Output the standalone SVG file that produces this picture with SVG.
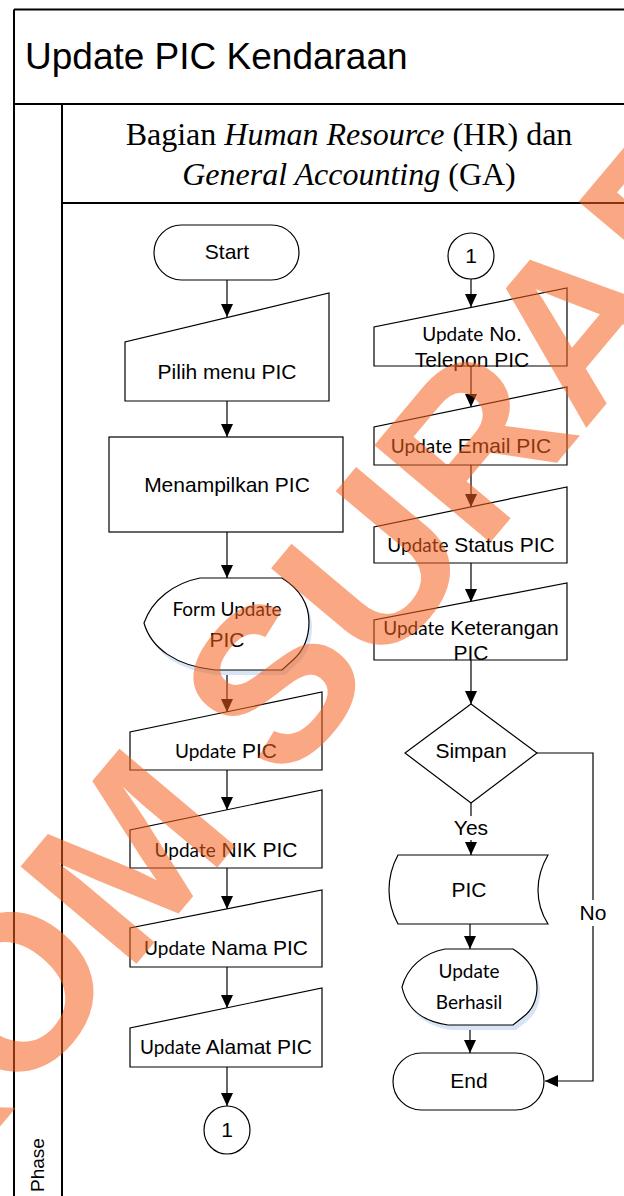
<svg xmlns="http://www.w3.org/2000/svg" width="624" height="1196" viewBox="0 0 624 1196">
  <defs>
    <marker id="arrow" viewBox="0 0 13 12" markerWidth="13" markerHeight="12" refX="13" refY="6" orient="auto" markerUnits="userSpaceOnUse">
      <path d="M0,0 L13,6 L0,12 Z" fill="#000"/>
    </marker>
  </defs>
  <style>
    .frame{fill:none;stroke:#000;stroke-width:2}
    .shape{fill:#fff;stroke:#000;stroke-width:1.2}
    .shadow{fill:#d6e4f5;stroke:none}
    .conn{fill:none;stroke:#000;stroke-width:1.2}
    .ar{font-family:"Liberation Sans",Arial,sans-serif;font-size:21px;fill:#000;text-anchor:middle}
    .cb{font-family:Lato,Carlito,sans-serif;font-size:19px}
    .hdr{font-family:"Liberation Serif","Times New Roman",serif;font-size:32px;fill:#000;text-anchor:middle}
    .lbl-bg{fill:#fff;stroke:none}
    .wm{font-family:"Liberation Sans",Arial,sans-serif;font-weight:bold;font-size:220px;fill:#f5621e;opacity:0.55}
  </style>

  <!-- swimlane frame -->
  <g id="frame">
    <path class="frame" d="M14,9.5 H624 M14,9.5 V1196 M14,104 H624 M62,104 V1196 M62,203 H624"/>
    <text x="25" y="69" font-family="'Liberation Sans',Arial,sans-serif" font-size="37" fill="#000">Update PIC Kendaraan</text>
    <text class="hdr" x="349" y="145">Bagian <tspan font-style="italic">Human Resource</tspan> (HR) dan</text>
    <text class="hdr" x="349" y="185"><tspan font-style="italic">General Accounting</tspan> (GA)</text>
    <text transform="translate(44,1192) rotate(-90)" font-family="'Liberation Sans',Arial,sans-serif" font-size="19" fill="#000">Phase</text>
  </g>

  <!-- connectors -->
  <g id="connectors">
    <path class="conn" marker-end="url(#arrow)" d="M227,280 V317"/>
    <path class="conn" marker-end="url(#arrow)" d="M227,401 V437"/>
    <path class="conn" marker-end="url(#arrow)" d="M227,532 V578"/>
    <path class="conn" marker-end="url(#arrow)" d="M227,670 V712"/>
    <path class="conn" marker-end="url(#arrow)" d="M227,770 V810"/>
    <path class="conn" marker-end="url(#arrow)" d="M227,868 V909"/>
    <path class="conn" marker-end="url(#arrow)" d="M227,967 V1008"/>
    <path class="conn" marker-end="url(#arrow)" d="M227,1067 V1106"/>
    <path class="conn" marker-end="url(#arrow)" d="M471,279 V307"/>
    <path class="conn" marker-end="url(#arrow)" d="M471,366 V407"/>
    <path class="conn" marker-end="url(#arrow)" d="M471,465 V507"/>
    <path class="conn" marker-end="url(#arrow)" d="M471,563 V602"/>
    <path class="conn" marker-end="url(#arrow)" d="M471,660 V704"/>
    <path class="conn" marker-end="url(#arrow)" d="M471,803 V855"/>
    <path class="conn" marker-end="url(#arrow)" d="M470,924 V949"/>
    <path class="conn" marker-end="url(#arrow)" d="M470,1025 V1053"/>
    <path class="conn" marker-end="url(#arrow)" d="M537,753 H593 V1081 H545"/>
    <rect class="lbl-bg" x="452" y="816" width="38" height="24"/>
    <text class="ar" x="471" y="835">Yes</text>
    <rect class="lbl-bg" x="578" y="900" width="30" height="26"/>
    <text class="ar" x="593" y="920">No</text>
  </g>

  <!-- left column -->
  <g id="start">
    <rect class="shape" x="154" y="225" width="145" height="55" rx="27.5"/>
    <text class="ar" x="227" y="259" font-size="20">Start</text>
  </g>
  <g id="pilih-menu">
    <polygon class="shape" points="125,401 125,342 329,293 329,401"/>
    <text class="ar" x="227" y="379">Pilih menu PIC</text>
  </g>
  <g id="menampilkan">
    <rect class="shape" x="109" y="437" width="234" height="95"/>
    <text class="ar" x="227" y="492">Menampilkan PIC</text>
  </g>
  <g id="form-update">
    <path class="shadow" transform="translate(3,5)" d="M200,578 H282 C301,590 309,606 309,622 C309,640 302,652 293,660 L282,670 H215 C176,666 151,648 144,623 C152,600 174,583 200,578 Z"/>
    <path class="shape" d="M200,578 H282 C301,590 309,606 309,622 C309,640 302,652 293,660 L282,670 H215 C176,666 151,648 144,623 C152,600 174,583 200,578 Z"/>
    <text class="ar" x="227" y="616"><tspan class="cb">Form Update</tspan></text>
    <text class="ar" x="227" y="647">PIC</text>
  </g>
  <g id="update-pic">
    <polygon class="shape" points="130,770 130,732 322,692 322,770"/>
    <text class="ar" x="226" y="758"><tspan class="cb">Update</tspan> PIC</text>
  </g>
  <g id="update-nik">
    <polygon class="shape" points="130,868 130,830 322,790 322,868"/>
    <text class="ar" x="226" y="857"><tspan class="cb">Update</tspan> NIK PIC</text>
  </g>
  <g id="update-nama">
    <polygon class="shape" points="130,967 130,928 322,890 322,967"/>
    <text class="ar" x="226" y="955"><tspan class="cb">Update</tspan> Nama PIC</text>
  </g>
  <g id="update-alamat">
    <polygon class="shape" points="130,1067 130,1028 322,988 322,1067"/>
    <text class="ar" x="226" y="1054"><tspan class="cb">Update</tspan> Alamat PIC</text>
  </g>
  <g id="connector-out">
    <ellipse class="shape" cx="227" cy="1130" rx="23" ry="24"/>
    <text class="ar" x="227" y="1137" font-size="20">1</text>
  </g>

  <!-- right column -->
  <g id="connector-in">
    <circle class="shape" cx="471" cy="256" r="23"/>
    <text class="ar" x="471" y="263" font-size="20">1</text>
  </g>
  <g id="update-telepon">
    <polygon class="shape" points="374,366 374,327 567,288 567,366"/>
    <text class="ar" x="472" y="341"><tspan class="cb">Update</tspan> No.</text>
    <text class="ar" x="472" y="367">Telepon PIC</text>
  </g>
  <g id="update-email">
    <polygon class="shape" points="374,465 374,427 567,387 567,465"/>
    <text class="ar" x="471" y="453"><tspan class="cb">Update</tspan> Email PIC</text>
  </g>
  <g id="update-status">
    <polygon class="shape" points="374,563 374,527 567,487 567,563"/>
    <text class="ar" x="471" y="552"><tspan class="cb">Update</tspan> Status PIC</text>
  </g>
  <g id="update-keterangan">
    <polygon class="shape" points="374,660 374,620 567,583 567,660"/>
    <text class="ar" x="471" y="635"><tspan class="cb">Update</tspan> Keterangan</text>
    <text class="ar" x="471" y="660">PIC</text>
  </g>
  <g id="simpan">
    <polygon class="shape" points="471,704 537,753 471,803 405,753"/>
    <text class="ar" x="471" y="758">Simpan</text>
  </g>
  <g id="pic-store">
    <path class="shape" d="M398,855 H548 C541,867 538,879 538,890 C538,902 541,913 548,924 H398 C392,913 389,902 389,890 C389,878 392,866 398,855 Z"/>
    <text class="ar" x="469" y="897">PIC</text>
  </g>
  <g id="update-berhasil">
    <path class="shadow" transform="translate(3,5)" d="M445,949 H513 C529,959 537,972 537,987 C537,1001 531,1011 523,1017 L513,1025 H448 C420,1021 406,1006 402,987 C407,968 423,953 445,949 Z"/>
    <path class="shape" d="M445,949 H513 C529,959 537,972 537,987 C537,1001 531,1011 523,1017 L513,1025 H448 C420,1021 406,1006 402,987 C407,968 423,953 445,949 Z"/>
    <text class="ar cb" x="469" y="978">Update</text>
    <text class="ar cb" x="469" y="1009">Berhasil</text>
  </g>
  <g id="end">
    <rect class="shape" x="393" y="1053" width="151" height="57" rx="28.5"/>
    <text class="ar" x="469" y="1088">End</text>
  </g>

  <!-- watermark -->
  <text class="wm" transform="translate(-305,1490) rotate(-50)">STIKOM SURABAYA</text>
</svg>
